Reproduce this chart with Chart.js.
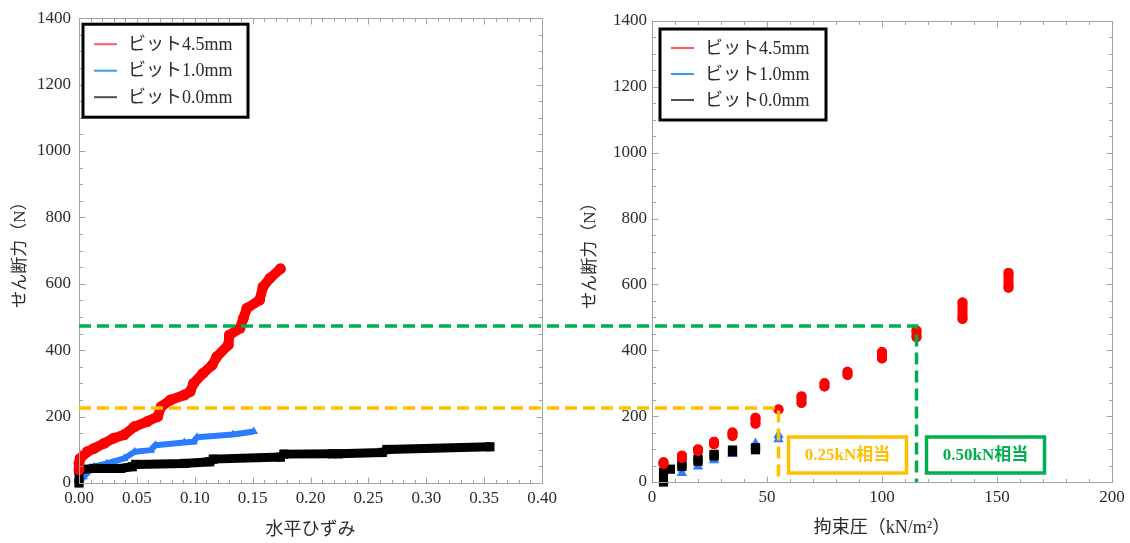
<!DOCTYPE html>
<html lang="ja">
<head>
<meta charset="utf-8">
<script src="https://cdn.jsdelivr.net/npm/chart.js@4.4.1/dist/chart.umd.min.js"></script>
<style>
  html, body { margin: 0; padding: 0; background: #fff; }
  #wrap { position: relative; width: 1130px; height: 543px; overflow: hidden; }
  #wrap canvas { position: absolute; top: 0; }
</style>
</head>
<body>
<div id="wrap">
  <canvas id="strainChart" width="565" height="543" style="left:0"></canvas>
  <canvas id="pressureChart" width="565" height="543" style="left:565px"></canvas>
  <canvas id="guides" width="1130" height="543" style="left:0;pointer-events:none"></canvas>
</div>
<script>
// ---- series labels ----
const seriesLabels = ['ビット4.5mm', 'ビット1.0mm', 'ビット0.0mm'];

// ---- 水平ひずみ vs せん断力 ----
const strain45 = [0.000, 0.000, 0.001, 0.007, 0.013, 0.022, 0.030, 0.039, 0.048, 0.059, 0.068, 0.071, 0.079, 0.091, 0.096, 0.099, 0.107, 0.115, 0.119, 0.129, 0.130, 0.139, 0.142, 0.145, 0.156, 0.159, 0.165, 0.174];
const shear45  = [40, 59, 74, 94, 104, 120, 135, 145, 170, 185, 200, 230, 250, 265, 275, 300, 330, 355, 380, 416, 446, 466, 496, 526, 551, 591, 617, 645];

const strain10 = [0.000, 0.004, 0.013, 0.024, 0.039, 0.048, 0.062, 0.066, 0.091, 0.099, 0.102, 0.133, 0.151];
const shear10  = [0, 19, 49, 59, 74, 94, 99, 114, 122, 124, 138, 146, 155];

const strain00 = [0.000, 0.000, 0.013, 0.036, 0.046, 0.049, 0.091, 0.113, 0.116, 0.174, 0.177, 0.219, 0.221, 0.224, 0.262, 0.266, 0.355];
const shear00  = [0, 40, 44, 44, 49, 56, 59, 64, 72, 78, 87, 88, null, 88, 92, 101, 109];

// ---- 拘束圧 vs せん断力 (range of shear at each pressure step) ----
const pressure45  = [5, 13, 20, 27, 35, 45, 55, 65, 75, 85, 100, 115, 135, 155];
const shearLow45  = [55, 73, 94, 115, 140, 177, 220, 240, 290, 325, 375, 440, 495, 590];
const shearHigh45 = [60, 80, 99, 122, 150, 195, 220, 260, 300, 335, 395, 460, 545, 635];

const pressure10  = [13, 20, 27, 35, 45, 55];
const shearLow10  = [27, 47, 66, 85, 110, 130];
const shearHigh10 = [27, 47, 66, 89, 117, 143];

const pressure00  = [5, 8, 13, 20, 27, 35, 45];
const shearLow00  = [0, 39, 47, 63, 79, 92, 98];
const shearHigh00 = [29, 39, 54, 70, 84, 97, 104];

// ---- axes ----
const strainMax = 0.40, strainStep = 0.05;
const pressureMax = 200, pressureStep = 50;
const shearMax = 1400, shearStep = 200;

// ---- reference levels (shear at 0.25kN / 0.50kN loading) ----
const guideShear    = [226, 473];
const guidePressure = [55, 115];
const guideLabels   = ['0.25kN相当', '0.50kN相当'];
const guideColors   = ['#FFC000', '#00B050'];

const SERIF = '"Liberation Serif", "Noto Sans CJK JP", serif';
const TEXT = '#2b2b2b';
const seriesColors = ['#ff0000', '#2a7bff', '#000000'];
const legendColors = ['#ff5a5a', '#3b9ae8', '#4d4d4d'];

function pairs(xs, ys) {
  return xs.map((x, i) => ({ x: x, y: ys[i] }));
}
function ranges(ps, lo, hi) {
  const out = [];
  ps.forEach((p, i) => {
    out.push({ x: p, y: lo[i] });
    if (hi[i] !== lo[i]) out.push({ x: p, y: hi[i] });
    out.push({ x: p, y: null });
  });
  return out;
}

// frame with inward ticks on all four sides
const framePlugin = {
  id: 'frame',
  afterDraw(chart, args, o) {
    const { ctx, chartArea: a, scales: { x, y } } = chart;
    ctx.save();
    ctx.strokeStyle = '#a3a3a3';
    ctx.lineWidth = 1;
    const L = Math.round(a.left) + 0.5, R = Math.round(a.right) + 0.5;
    const T = Math.round(a.top) + 0.5, B = Math.round(a.bottom) + 0.5;
    ctx.strokeRect(L, T, R - L, B - T);
    ctx.beginPath();
    const nx = Math.round((x.max - x.min) / o.xMinor);
    for (let k = 0; k <= nx; k++) {
      const px = Math.round(x.getPixelForValue(x.min + k * o.xMinor)) + 0.5;
      const len = k % o.xEvery === 0 ? 6 : 3.5;
      ctx.moveTo(px, B); ctx.lineTo(px, B - len);
      ctx.moveTo(px, T); ctx.lineTo(px, T + len);
    }
    const ny = Math.round((y.max - y.min) / o.yMinor);
    for (let k = 0; k <= ny; k++) {
      const py = Math.round(y.getPixelForValue(y.min + k * o.yMinor)) + 0.5;
      const len = k % o.yEvery === 0 ? 6 : 3.5;
      ctx.moveTo(L, py); ctx.lineTo(L + len, py);
      ctx.moveTo(R, py); ctx.lineTo(R - len, py);
    }
    ctx.stroke();
    ctx.restore();
  }
};

// boxed legend with line samples
const legendBoxPlugin = {
  id: 'legendBox',
  afterDraw(chart, args, o) {
    const { ctx, chartArea: a } = chart;
    const bx = a.left + o.dx, by = a.top + o.dy;
    ctx.save();
    ctx.fillStyle = '#fff';
    ctx.fillRect(bx, by, o.w, o.h);
    ctx.lineWidth = 3;
    ctx.strokeStyle = '#000';
    ctx.strokeRect(bx, by, o.w, o.h);
    ctx.font = '18px ' + SERIF;
    ctx.textBaseline = 'middle';
    chart.data.datasets.forEach((ds, i) => {
      const cy = by + o.rows[i];
      ctx.strokeStyle = legendColors[i];
      ctx.lineWidth = 2;
      ctx.beginPath();
      ctx.moveTo(bx + 11, cy);
      ctx.lineTo(bx + 34, cy);
      ctx.stroke();
      ctx.fillStyle = TEXT;
      ctx.fillText(ds.label, bx + 45, cy + 1);
    });
    ctx.restore();
  }
};

function makeOptions(c) {
  return {
    responsive: false,
    animation: false,
    events: [],
    layout: { padding: c.padding },
    plugins: {
      legend: { display: false },
      tooltip: { enabled: false },
      frame: c.frame,
      legendBox: c.legend
    },
    scales: {
      x: {
        type: 'linear', min: 0, max: c.xMax,
        grid: { display: false, drawTicks: false },
        border: { display: false },
        ticks: {
          stepSize: c.xStep, padding: 5, color: TEXT, maxRotation: 0, autoSkip: false,
          font: { family: SERIF, size: 17 },
          callback: c.xFmt
        },
        title: {
          display: true, text: c.xTitle, color: TEXT,
          font: { family: SERIF, size: 18 },
          padding: { top: 0, bottom: c.xTitlePad }
        },
        afterFit: s => { s.height = c.xHeight; }
      },
      y: {
        type: 'linear', min: 0, max: shearMax,
        grid: { display: false, drawTicks: false },
        border: { display: false },
        ticks: {
          stepSize: shearStep, padding: c.yTickPad, color: TEXT,
          font: { family: SERIF, size: 17 },
          callback: v => String(v)
        },
        title: {
          display: true, text: 'せん断力（N）', color: TEXT,
          font: { family: SERIF, size: 17 },
          padding: { top: c.yTitlePad, bottom: 0 }
        },
        afterFit: s => { s.width = c.yWidth; }
      }
    }
  };
}

const strainChart = new Chart(document.getElementById('strainChart'), {
  type: 'scatter',
  data: {
    datasets: [
      {
        label: seriesLabels[0], data: pairs(strain45, shear45), order: 0,
        showLine: true, borderColor: seriesColors[0], backgroundColor: seriesColors[0],
        borderWidth: 10, borderCapStyle: 'round', borderJoinStyle: 'round',
        pointStyle: 'circle', pointRadius: 5.5, pointBorderWidth: 0, clip: false
      },
      {
        label: seriesLabels[1], data: pairs(strain10, shear10), order: 2,
        showLine: true, borderColor: seriesColors[1], backgroundColor: seriesColors[1],
        borderWidth: 6, borderCapStyle: 'butt', borderJoinStyle: 'round',
        pointStyle: 'triangle', pointRadius: 5, pointBorderWidth: 0, clip: false
      },
      {
        label: seriesLabels[2], data: pairs(strain00, shear00), order: 1,
        showLine: true, spanGaps: false, borderColor: seriesColors[2], backgroundColor: seriesColors[2],
        borderWidth: 9, borderCapStyle: 'butt', borderJoinStyle: 'miter',
        pointStyle: 'rect', pointRadius: 6.5, pointBorderWidth: 0, clip: false
      }
    ]
  },
  options: makeOptions({
    padding: { left: 0, top: 18, right: 23, bottom: 0 },
    xMax: strainMax, xStep: strainStep,
    xFmt: v => Number(v).toFixed(2),
    xTitle: '水平ひずみ', xTitlePad: 2, xHeight: 60,
    yWidth: 79, yTickPad: 8, yTitlePad: 10,
    frame: { xMinor: 0.01, xEvery: 5, yMinor: 50, yEvery: 4 },
    legend: { dx: 4, dy: 6, w: 165, h: 93, rows: [20, 46.5, 73] }
  }),
  plugins: [framePlugin, legendBoxPlugin]
});

const pressureChart = new Chart(document.getElementById('pressureChart'), {
  type: 'scatter',
  data: {
    datasets: [
      {
        label: seriesLabels[0], data: ranges(pressure45, shearLow45, shearHigh45), order: 0,
        showLine: true, spanGaps: false, borderColor: seriesColors[0], backgroundColor: seriesColors[0],
        borderWidth: 10, borderCapStyle: 'round',
        pointStyle: 'circle', pointRadius: 5, pointBorderWidth: 0, clip: false
      },
      {
        label: seriesLabels[1], data: ranges(pressure10, shearLow10, shearHigh10), order: 2,
        showLine: true, spanGaps: false, borderColor: seriesColors[1], backgroundColor: seriesColors[1],
        borderWidth: 7, borderCapStyle: 'butt',
        pointStyle: 'triangle', pointRadius: 6, pointBorderWidth: 0, clip: false
      },
      {
        label: seriesLabels[2], data: ranges(pressure00, shearLow00, shearHigh00), order: 1,
        showLine: true, spanGaps: false, borderColor: seriesColors[2], backgroundColor: seriesColors[2],
        borderWidth: 9, borderCapStyle: 'butt',
        pointStyle: 'rect', pointRadius: 6.5, pointBorderWidth: 0, clip: false
      }
    ]
  },
  options: makeOptions({
    padding: { left: 0, top: 21, right: 18, bottom: 1 },
    xMax: pressureMax, xStep: pressureStep,
    xFmt: v => String(v),
    xTitle: '拘束圧（kN/m²）', xTitlePad: 3, xHeight: 60,
    yWidth: 87, yTickPad: 5, yTitlePad: 15,
    frame: { xMinor: 10, xEvery: 5, yMinor: 50, yEvery: 4 },
    legend: { dx: 8, dy: 8, w: 166, h: 91, rows: [19, 45, 71] }
  }),
  plugins: [framePlugin, legendBoxPlugin]
});

// dashed guides linking the two panels, with their load labels
function drawGuides() {
  const g = document.getElementById('guides').getContext('2d');
  const lx = strainChart.scales.x, ly = strainChart.scales.y;
  const rx = pressureChart.scales.x, ry = pressureChart.scales.y;
  const offsetRight = pressureChart.canvas.offsetLeft;
  guideShear.forEach((v, i) => {
    const y = Math.round(ly.getPixelForValue(v));
    const x0 = lx.getPixelForValue(0);
    const x1 = offsetRight + rx.getPixelForValue(guidePressure[i]);
    const yb = ry.getPixelForValue(0);
    g.save();
    g.strokeStyle = guideColors[i];
    g.lineWidth = 3.5;
    g.setLineDash([12, 6]);
    g.beginPath();
    g.moveTo(x0, y);
    g.lineTo(x1, y);
    g.lineTo(x1, yb);
    g.stroke();

    g.setLineDash([]);
    const bw = 118, bh = 36;
    const bx = x1 + 10, by = yb - 9 - bh;
    g.fillStyle = '#fff';
    g.fillRect(bx, by, bw, bh);
    g.lineWidth = 3.5;
    g.strokeRect(bx, by, bw, bh);
    g.font = 'bold 17px ' + SERIF;
    g.fillStyle = guideColors[i];
    g.textAlign = 'center';
    g.textBaseline = 'middle';
    g.fillText(guideLabels[i], bx + bw / 2, by + bh / 2 + 1);
    g.restore();
  });
}
drawGuides();
</script>
</body>
</html>
